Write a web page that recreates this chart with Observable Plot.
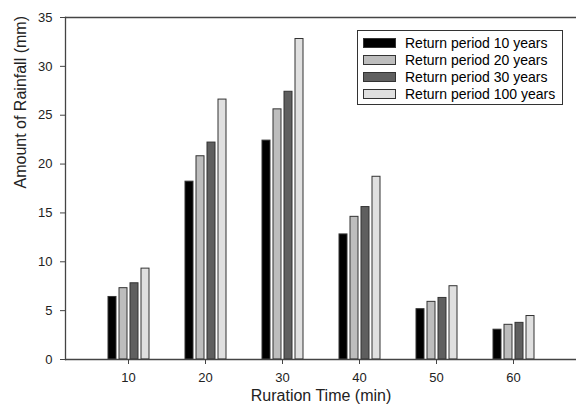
<!DOCTYPE html>
<html>
<head>
<meta charset="utf-8">
<script src="https://cdn.jsdelivr.net/npm/d3@7"></script>
<script src="https://cdn.jsdelivr.net/npm/@observablehq/plot@0.6"></script>
<style>
  html, body { margin: 0; padding: 0; background: #fff; }
  #chart { position: relative; width: 576px; height: 408px; font-family: "Liberation Sans", Arial, sans-serif; }
  #chart svg.frame-layer { position: absolute; left: 0; top: 0; pointer-events: none; }
  #legend {
    position: absolute; left: 357px; top: 30px; width: 206px; height: 75px;
    box-sizing: border-box; border: 1px solid #333; background: #fff;
    padding-top: 3px; font-size: 14px; color: #000;
  }
  #legend .row { display: flex; align-items: center; height: 17px; }
  #legend .sw { width: 33px; height: 10px; box-sizing: border-box; border: 1px solid #333; margin-left: 5px; margin-right: 9px; }
</style>
</head>
<body>
<div id="chart"></div>
<script>
// Rainfall depth (mm) by storm duration for four return periods
const durations = [10, 20, 30, 40, 50, 60];
const series = ["Return period 10 years", "Return period 20 years", "Return period 30 years", "Return period 100 years"];
const rp10  = [6.4, 18.2, 22.4, 12.8, 5.15, 3.05];
const rp20  = [7.3, 20.8, 25.6, 14.6, 5.9, 3.55];
const rp30  = [7.8, 22.2, 27.4, 15.6, 6.3, 3.75];
const rp100 = [9.3, 26.6, 32.8, 18.7, 7.5, 4.45];
const yTicks = [0, 5, 10, 15, 20, 25, 30, 35];
const yDomain = [0, 35];

const fills = ["#000000", "#bdbdbd", "#5f5f5f", "#e0e0e0"];

const rows = [rp10, rp20, rp30, rp100].flatMap((vals, i) =>
  vals.map((v, j) => ({duration: durations[j], series: series[i], value: v}))
);

const font = "Liberation Sans, Arial, sans-serif";
const frameBox = {width: 576, height: 408, marginTop: 17, marginBottom: 49, marginLeft: 65, marginRight: 0};
const ink = {stroke: "#444", fill: "#222"};

// Grouped bars: one facet per duration, one band per return period
const chart = Plot.plot({
  ...frameBox,
  facet: {marginTop: 0, marginRight: 0, marginBottom: 0, marginLeft: 0},
  style: {fontFamily: font, fontSize: "13px", color: "#222", background: "#fff"},
  fx: {domain: durations, paddingInner: 0.4, paddingOuter: 0.5},
  x: {domain: series, paddingInner: 0.3, paddingOuter: 0.12, axis: null},
  y: {domain: yDomain, axis: null},
  color: {domain: series, range: fills},
  marks: [
    Plot.barY(rows, {fx: "duration", x: "series", y: "value", fill: "series", stroke: "#333", strokeWidth: 1}),
    Plot.axisFx({anchor: "bottom", tickSize: 5, tickPadding: 8, label: null, ...ink})
  ]
});

// Unfaceted layer on the same y scale: axis frame, y ticks and axis titles
const frameLayer = Plot.plot({
  ...frameBox,
  style: {fontFamily: font, fontSize: "13px", color: "#222", background: "transparent"},
  y: {domain: yDomain},
  marks: [
    Plot.ruleY(yDomain, {stroke: "#444", strokeWidth: 1.3}),
    Plot.frame({anchor: "left", stroke: "#444", strokeWidth: 1.3}),
    Plot.axisY({ticks: yTicks, tickSize: 5, tickPadding: 8, label: null, ...ink}),
    Plot.text(["Amount of Rainfall (mm)"], {frameAnchor: "left", rotate: -90, dx: -45, fontSize: 16, fill: "#222"}),
    Plot.text(["Ruration Time (min)"], {frameAnchor: "bottom", dy: 41, fontSize: 16, fill: "#222"})
  ]
});
frameLayer.classList.add("frame-layer");

const root = document.getElementById("chart");
root.appendChild(chart);
root.appendChild(frameLayer);

// Legend box in the upper right of the plot area
const legend = document.createElement("div");
legend.id = "legend";
series.forEach((name, i) => {
  const row = document.createElement("div");
  row.className = "row";
  const sw = document.createElement("span");
  sw.className = "sw";
  sw.style.background = fills[i];
  const label = document.createElement("span");
  label.textContent = name;
  row.appendChild(sw);
  row.appendChild(label);
  legend.appendChild(row);
});
root.appendChild(legend);
</script>
</body>
</html>
